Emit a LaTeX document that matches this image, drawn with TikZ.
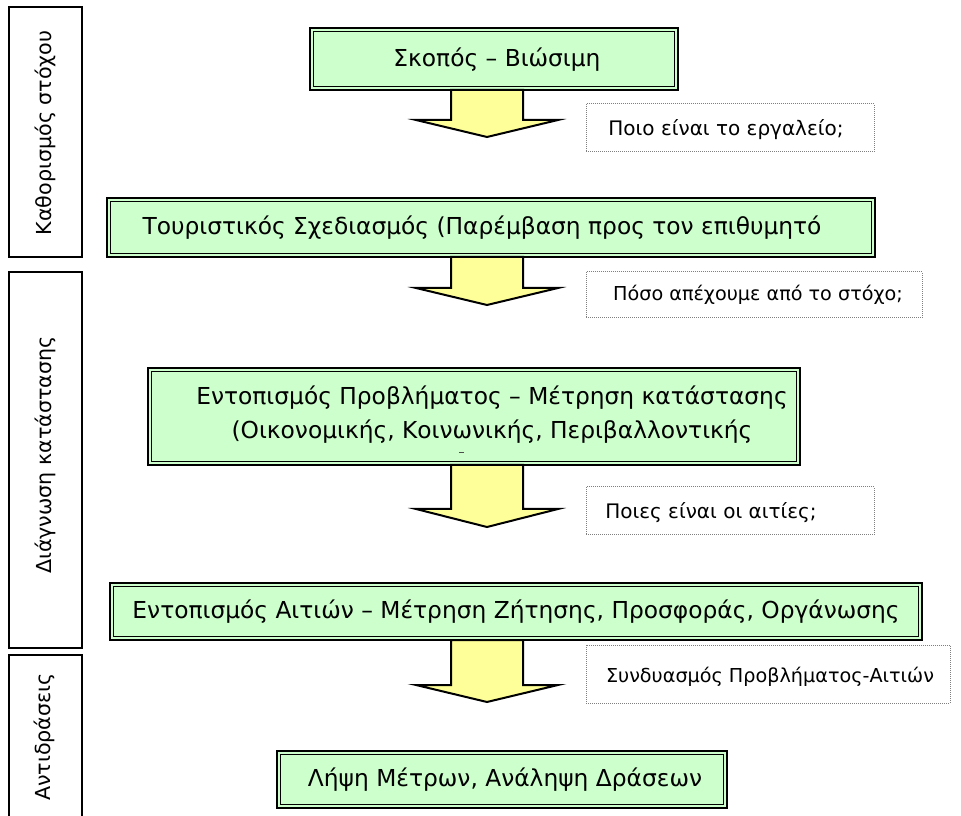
\documentclass[tikz,border=0pt]{standalone}
\usepackage{fontspec}
\setmainfont{DejaVu Sans}
\definecolor{boxgreen}{HTML}{CCFFCC}
\definecolor{arrowyellow}{HTML}{FFFF99}
\definecolor{qgray}{HTML}{7F7F7F}
\newcommand\rectnode[6]{\node[#1, minimum width={(#4-#2)*0.75pt}, minimum height={(#5-#3)*0.75pt}] (#6) at ({(#2+#4)/2},{(#3+#5)/2}) {};}
\newcommand\innerframe[1]{\draw[line width=0.8pt] ([xshift=2.6pt,yshift=-2.6pt]#1.north west) rectangle ([xshift=-2.6pt,yshift=2.6pt]#1.south east);}
\newcommand\blockarrow[3]{\draw[barrow] (451,0 |- #1.south) -- ++(0,#2) -- ++(-35,0) -- ++(71,#3) -- ++(71,-#3) -- ++(-35,0) -- ++(0,-#2) -- cycle;}
\begin{document}
\begin{tikzpicture}[x=0.75pt,y=-0.75pt,
  gbox/.style={draw=black, line width=1.6pt, fill=boxgreen, inner sep=0pt, outer sep=0pt},
  lbox/.style={draw=black, line width=1.5pt, fill=white, inner sep=0pt, outer sep=0pt},
  qbox/.style={draw=qgray, line width=0.75pt, dash pattern=on 0.75pt off 0.75pt, inner sep=0pt, outer sep=0pt},
  barrow/.style={draw=black, line width=1.5pt, fill=arrowyellow, line join=miter},
  mtext/.style={font=\fontsize{17.5}{25.5}\selectfont, inner sep=0pt, align=center},
  qtext/.style={font=\fontsize{15}{18}\selectfont, inner sep=0pt},
  qstext/.style={font=\fontsize{14.4}{17}\selectfont, inner sep=0pt},
  ltext/.style={font=\fontsize{15.5}{18}\selectfont, inner sep=0pt, rotate=90}]
\useasboundingbox[fill=white] (0,0) rectangle (961,816);

% left stage boxes
\rectnode{lbox}{9}{7}{82}{257}{L1}
\rectnode{lbox}{9}{272}{82}{648}{L2}
\rectnode{lbox}{9}{655}{82}{840}{L3}
\node[ltext] (L1t) at (45,133) {Καθορισμός στόχου};
\node[ltext] (L2t) at (45,455) {Διάγνωση κατάστασης};
\node[ltext] (L3t) at (44,737) {Αντιδράσεις};

% main boxes
\rectnode{gbox}{310}{28}{678}{90}{A}
\rectnode{gbox}{107}{198}{875}{257}{B}
\rectnode{gbox}{148}{368}{800}{465}{C}
\rectnode{gbox}{110}{583}{922}{640}{D}
\rectnode{gbox}{277}{751}{727}{808}{E}
\innerframe{A}\innerframe{B}\innerframe{C}\innerframe{D}\innerframe{E}

\node[mtext] (At) at (497,60) {Σκοπός – Βιώσιμη};
\node[mtext] (Bt) at (482,228) {Τουριστικός Σχεδιασμός (Παρέμβαση προς τον επιθυμητό};
\node[mtext] (Ct) at (492,415) {Εντοπισμός Προβλήματος – Μέτρηση κατάστασης\\(Οικονομικής, Κοινωνικής, Περιβαλλοντικής};
\draw[line width=0.5pt, black!70] (459,452) -- (464,452);
\node[mtext] (Dt) at (516,612) {Εντοπισμός Αιτιών – Μέτρηση Ζήτησης, Προσφοράς, Οργάνωσης};
\node[mtext] (Et) at (505,780) {Λήψη Μέτρων, Ανάληψη Δράσεων};

% block arrows
\blockarrow{A}{30}{17}
\blockarrow{B}{31}{17}
\blockarrow{C}{44}{18}
\blockarrow{D}{45}{17}

% question boxes
\rectnode{qbox}{586}{104}{874}{152}{Q1}
\rectnode{qbox}{586}{272}{922}{318}{Q2}
\rectnode{qbox}{586}{487}{874}{535}{Q3}
\rectnode{qbox}{586}{645}{950}{703}{Q4}
\node[qtext] (Q1t) at (726,130) {Ποιο είναι το εργαλείο;};
\node[qstext] (Q2t) at (758,295) {Πόσο απέχουμε από το στόχο;};
\node[qtext] (Q3t) at (711,513) {Ποιες είναι οι αιτίες;};
\node[qstext] (Q4t) at (770,677) {Συνδυασμός Προβλήματος-Αιτιών};
\end{tikzpicture}
\end{document}
